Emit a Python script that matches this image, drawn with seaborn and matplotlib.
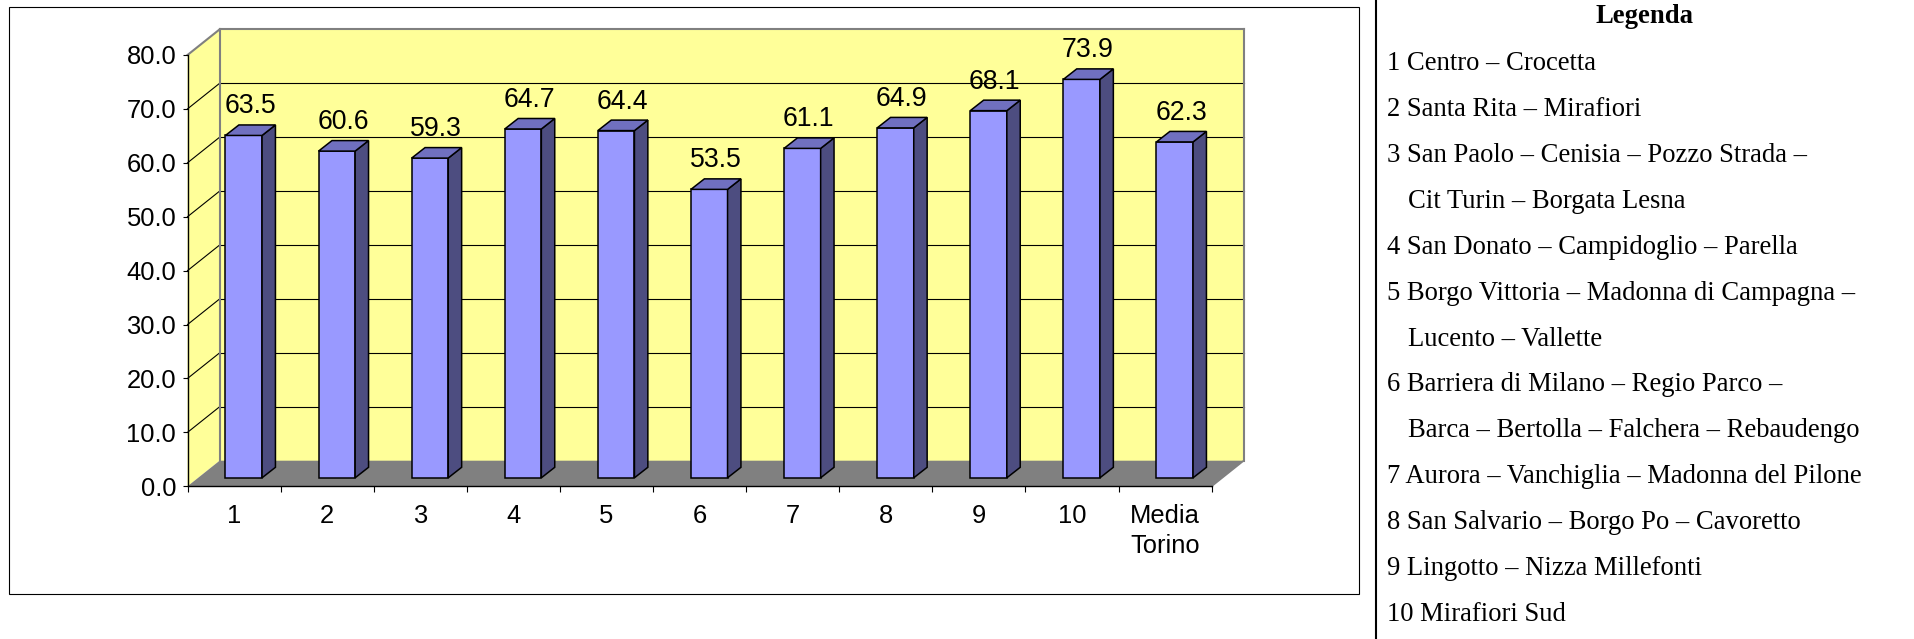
import numpy as np
import pandas as pd
import matplotlib
matplotlib.use("Agg")
import matplotlib.pyplot as plt
from matplotlib.patches import Polygon, Rectangle
from matplotlib.lines import Line2D
import matplotlib.transforms as mtransforms
import seaborn as sns

# ---------------- data ----------------
categories = ["1", "2", "3", "4", "5", "6", "7", "8", "9", "10", "Media\nTorino"]
values = [63.5, 60.6, 59.3, 64.7, 64.4, 53.5, 61.1, 64.9, 68.1, 73.9, 62.3]
y_ticks = [0, 10, 20, 30, 40, 50, 60, 70, 80]
y_tick_labels = [f"{v:.1f}" for v in y_ticks]
legend_title = "Legenda"
legend_items = [
    ["1 Centro – Crocetta"],
    ["2 Santa Rita – Mirafiori"],
    ["3 San Paolo – Cenisia – Pozzo Strada –", "Cit Turin – Borgata Lesna"],
    ["4 San Donato – Campidoglio – Parella"],
    ["5 Borgo Vittoria – Madonna di Campagna –", "Lucento – Vallette"],
    ["6 Barriera di Milano – Regio Parco –", "Barca – Bertolla – Falchera – Rebaudengo"],
    ["7 Aurora – Vanchiglia – Madonna del Pilone"],
    ["8 San Salvario – Borgo Po – Cavoretto"],
    ["9 Lingotto – Nizza Millefonti"],
    ["10 Mirafiori Sud"],
]

# ---------------- layout ----------------
W, H, DPI = 1914, 639, 100
plt.rcParams["font.family"] = ["Liberation Sans", "DejaVu Sans"]
SANS_SIZE = 18.4
LABEL_SIZE = 19.2
SERIF_SIZE = 19.2

fig = plt.figure(figsize=(W / DPI, H / DPI), dpi=DPI)
fig.patch.set_facecolor("white")

X0, X1 = 187.5, 1211.6   # front plane, pixels from left
Y0, Y1 = 486.3, 55.0     # front plane, pixels from top
ax = fig.add_axes([X0 / W, 1 - Y0 / H, (X1 - X0) / W, (Y0 - Y1) / H])
ax.set_facecolor("none")

df = pd.DataFrame({"cat": categories, "val": values})
sns.barplot(data=df, x="cat", y="val", ax=ax, color="#9999FF", saturation=1,
            width=0.393, edgecolor="black", linewidth=1.1, zorder=5)
bars = [p for p in ax.patches if isinstance(p, Rectangle)]
ax.set_xlim(-0.5, len(categories) - 0.5)
ax.set_ylim(y_ticks[0], y_ticks[-1])
ax.set_xlabel("")
ax.set_ylabel("")

# offsets (pixels, up positive)
B = np.array([32.1, 25.6])    # back wall depth
F = np.array([9.7, 8.5])      # bar front face depth
D = np.array([13.4, 10.5])    # bar depth

ident = mtransforms.IdentityTransform()
T = ax.transData.transform


def poly(pts, fc, ec="none", lw=0.0, z=1):
    p = Polygon(np.array(pts), closed=True, facecolor=fc, edgecolor=ec,
                linewidth=lw, transform=ident, clip_on=False, zorder=z)
    ax.add_patch(p)


def seg(a, b, color, lw, z=1):
    ax.add_line(Line2D([a[0], b[0]], [a[1], b[1]], color=color, linewidth=lw,
                       transform=ident, clip_on=False, zorder=z))


xl, xr = ax.get_xlim()
ylo, yhi = ax.get_ylim()
p0 = T((xl, ylo)); p80 = T((xl, yhi)); pr0 = T((xr, ylo)); pr80 = T((xr, yhi))
WALL = "#FFFF99"; GREY = "#808080"

# left side wall
poly([p0, p0 + B, p80 + B, p80], WALL, z=0.5)
# back wall
poly([p0 + B, pr0 + B, pr80 + B, p80 + B], WALL, z=0.5)
# floor
poly([p0, pr0, pr0 + B, p0 + B], GREY, z=0.6)
# gridlines
for v in y_ticks[1:-1]:
    a = T((xl, v)); b = T((xr, v))
    seg(a, a + B, "black", 0.8, z=0.7)
    seg(a + B, b + B, "black", 0.8, z=0.7)
# wall borders
seg(p80, p80 + B, GREY, 1.5, z=0.8)
seg(p80 + B, pr80 + B, GREY, 1.5, z=0.8)
seg(pr80 + B, pr0 + B, GREY, 1.5, z=0.8)
seg(p0 + B, p80 + B, GREY, 1.5, z=0.8)
seg(pr0, pr0 + B, GREY, 1.2, z=0.8)

# bars: shift front faces into depth and add side/top faces
off = mtransforms.ScaledTranslation(F[0] / DPI, F[1] / DPI, fig.dpi_scale_trans)
for p, v in zip(bars, values):
    x, w, h = p.get_x(), p.get_width(), p.get_height()
    p.set_transform(ax.transData + off)
    p.set_clip_on(False)
    br = T((x + w, 0)) + F; tr = T((x + w, h)) + F; tl = T((x, h)) + F
    poly([br, br + D, tr + D, tr], "#4D4D80", "black", 1.1, z=5)
    poly([tl, tr, tr + D, tl + D], "#7070C0", "black", 1.1, z=5)
    ax.annotate(f"{v:.1f}", xy=(x + w / 2, h), xytext=(16, 30.5),
                textcoords="offset pixels", ha="center", va="baseline",
                fontsize=LABEL_SIZE, color="black", zorder=6)

# spines & ticks
for s in ["top", "right"]:
    ax.spines[s].set_visible(False)
for s in ["left", "bottom"]:
    ax.spines[s].set_color("black")
    ax.spines[s].set_linewidth(1.0)
    ax.spines[s].set_zorder(4)

ax.set_yticks(y_ticks)
ax.set_yticklabels(y_tick_labels)
ax.tick_params(axis="y", left=True, direction="out", length=3.6, width=0.8,
               pad=4.5, labelsize=SANS_SIZE, colors="black")
ax.set_xticks(range(len(categories)))
ax.set_xticklabels(categories)
ax.tick_params(axis="x", which="major", bottom=True, length=0, pad=12.4,
               labelsize=SANS_SIZE, colors="black")
ax.set_xticks(np.arange(-0.5, len(categories), 1), minor=True)
ax.tick_params(axis="x", which="minor", bottom=True, direction="out",
               length=4.3, width=0.8, color="black")
for lbl in ax.get_xticklabels():
    lbl.set_linespacing(1.35)
ax.grid(False)

# outer chart box
fig.add_artist(Rectangle((9 / W, 1 - 594 / H), (1358.5 - 9) / W, (594 - 7) / H,
                         transform=fig.transFigure, fill=False,
                         edgecolor="black", linewidth=0.8))
# separator line
fig.add_artist(Line2D([1376 / W, 1376 / W], [0, 1], transform=fig.transFigure,
                      color="black", linewidth=1.5))

# legend text
SERIF = ["Liberation Serif", "DejaVu Serif"]
fig.text(1645 / W, 1 - 23.2 / H, legend_title, ha="center", va="baseline",
         fontweight="bold", family=SERIF, fontsize=SERIF_SIZE)
y = 70.1
for item in legend_items:
    for i, line in enumerate(item):
        xpx = 1387 if i == 0 else 1407.7
        fig.text(xpx / W, 1 - y / H, line, ha="left", va="baseline",
                 family=SERIF, fontsize=SERIF_SIZE, color="black")
        y += 45.9

fig.savefig("out.png", dpi=DPI, facecolor="white")
